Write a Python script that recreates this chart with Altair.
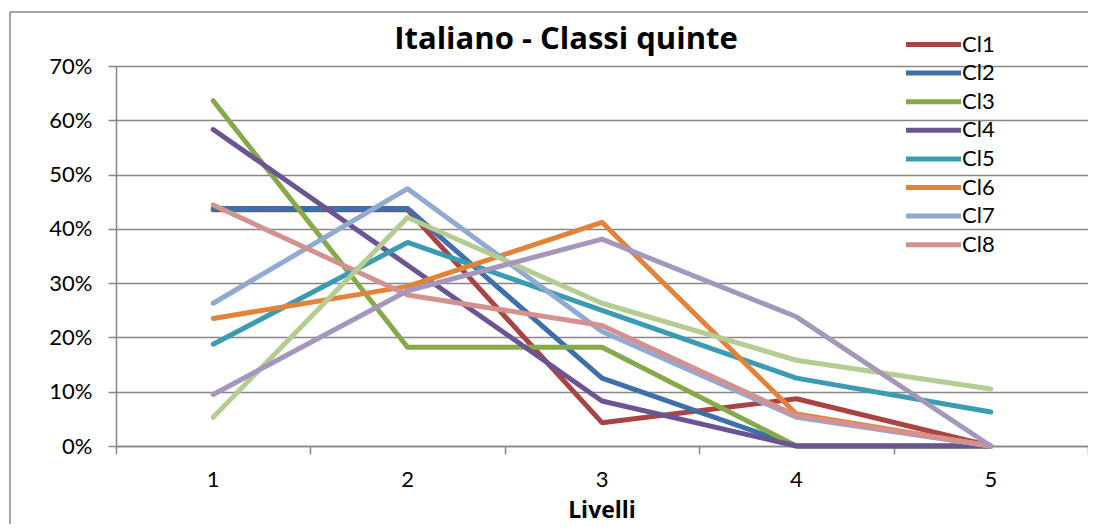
import altair as alt
import pandas as pd

levels = [1, 2, 3, 4, 5]
series_names = ["Cl1", "Cl2", "Cl3", "Cl4", "Cl5", "Cl6", "Cl7", "Cl8", "Cl9", "Cl10"]
cl1 = [0.435, 0.435, 0.043, 0.087, 0.0]
cl2 = [0.4375, 0.4375, 0.125, 0.0, 0.0]
cl3 = [0.636, 0.182, 0.182, 0.0, 0.0]
cl4 = [0.583, 0.333, 0.083, 0.0, 0.0]
cl5 = [0.1875, 0.375, 0.25, 0.125, 0.0625]
cl6 = [0.235, 0.294, 0.412, 0.059, 0.0]
cl7 = [0.263, 0.474, 0.211, 0.053, 0.0]
cl8 = [0.444, 0.278, 0.222, 0.056, 0.0]
cl9 = [0.053, 0.421, 0.263, 0.158, 0.105]
cl10 = [0.095, 0.286, 0.381, 0.238, 0.0]
colors = ["#A94442", "#3F6FAA", "#86A94A", "#6B5492", "#3A9BB2",
          "#E1843A", "#90AAD2", "#D39190", "#B5CD93", "#A597BC"]
legend_shown = series_names[:8]
tick_bounds = [0.5, 1.5, 2.5, 3.5, 4.5, 5.5]
title_text = "Italiano - Classi quinte"
x_title = "Livelli"

all_series = [cl1, cl2, cl3, cl4, cl5, cl6, cl7, cl8, cl9, cl10]
rows = []
for idx, (name, vals) in enumerate(zip(series_names, all_series)):
    for lv, v in zip(levels, vals):
        rows.append({"serie": name, "idx": idx, "livello": lv, "valore": v})
df = pd.DataFrame(rows)

FONT = "Lato"
TFONT = "Open Sans"
GRAY = "#868686"
W, H = 972, 380

xscale = alt.Scale(domain=[0.5, 5.5], nice=False, zero=False)

lines = alt.Chart(df).mark_line(strokeWidth=5, strokeCap="round", strokeJoin="round").encode(
    x=alt.X("livello:Q", scale=xscale,
            axis=alt.Axis(values=tick_bounds, labels=False, grid=False, tickSize=8,
                          tickColor=GRAY, domainColor=GRAY, tickWidth=1.5, domainWidth=1.5,
                          title=None)),
    y=alt.Y("valore:Q", scale=alt.Scale(domain=[0, 0.7], nice=False),
            axis=alt.Axis(values=[0, 0.1, 0.2, 0.3, 0.4, 0.5, 0.6, 0.7], format=".0%",
                          title=None, tickSize=8, tickColor=GRAY, domainColor=GRAY,
                          tickWidth=1.5, domainWidth=1.5, gridColor=GRAY, gridWidth=1.5,
                          labelFontSize=22, labelFont=FONT, labelColor="black",
                          labelPadding=16)),
    color=alt.Color("serie:N", scale=alt.Scale(domain=series_names, range=colors),
                    legend=alt.Legend(values=legend_shown, title=None, orient="none",
                                      legendX=801, legendY=-38, symbolType="M-2,0H2",
                                      symbolStrokeWidth=5, symbolSize=756, padding=0,
                                      labelFontSize=22, labelFont=FONT, labelColor="black",
                                      rowPadding=0.6, labelOffset=12)),
    detail="idx:O",
    order="livello:Q",
)

level_labels = alt.Chart(pd.DataFrame({"livello": levels})).mark_text(
    fontSize=22, font=FONT, color="black", baseline="middle"
).encode(
    x=alt.X("livello:Q", scale=xscale),
    y=alt.value(H + 34),
    text=alt.Text("livello:Q"),
)

title_mark = alt.Chart(alt.Data(values=[{"t": title_text}])).mark_text(
    fontSize=31, font=TFONT, fontWeight="bold", color="black",
    baseline="alphabetic", align="center"
).encode(
    x=alt.value(450), y=alt.value(-17), text="t:N"
)

xtitle_mark = alt.Chart(alt.Data(values=[{"t": x_title}])).mark_text(
    fontSize=23, font=TFONT, fontWeight="bold", color="black",
    baseline="alphabetic", align="center"
).encode(
    x=alt.value(W / 2), y=alt.value(H + 72), text="t:N"
)

border = alt.Chart(alt.Data(values=[{"a": 1}])).mark_rule(
    stroke=GRAY, strokeWidth=1.5
).encode(
    x=alt.value(-106), y=alt.value(-54), y2=alt.value(H + 80)
)
border_top = alt.Chart(alt.Data(values=[{"a": 1}])).mark_rule(
    stroke=GRAY, strokeWidth=1.5
).encode(
    x=alt.value(-106), x2=alt.value(W + 20), y=alt.value(-54)
)

chart = alt.layer(border, border_top, lines, level_labels, title_mark, xtitle_mark).properties(
    width=W, height=H,
    autosize=alt.AutoSizeParams(type="none"),
    padding={"left": 108, "top": 58, "right": 0, "bottom": 78},
).configure_view(strokeWidth=0, stroke="transparent").configure(background="white")

chart.save("out.html", embed_options={"renderer": "svg", "actions": False})
